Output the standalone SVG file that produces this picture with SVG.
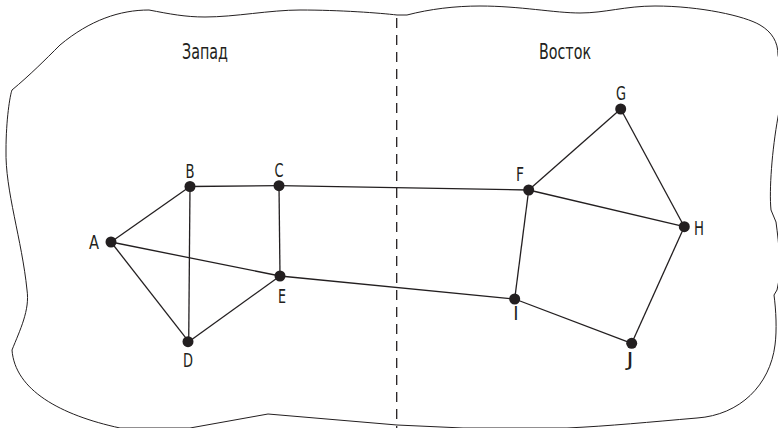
<svg xmlns="http://www.w3.org/2000/svg" width="778" height="428" viewBox="0 0 778 428">
<style>
.bd{fill:none;stroke:#231f20;stroke-width:1}
.dash{fill:none;stroke:#231f20;stroke-width:1.3;stroke-dasharray:10 7}
.e{stroke:#231f20;stroke-width:1.3;fill:none}
.n{fill:#231f20}
.t{font-family:"DejaVu Sans Condensed","DejaVu Sans",sans-serif;font-stretch:condensed;font-size:20px;fill:#231f20;text-anchor:middle}
.r{font-family:"DejaVu Sans Condensed","DejaVu Sans",sans-serif;font-stretch:condensed;font-size:22px;fill:#231f20;text-anchor:middle}
</style>
<rect width="778" height="428" fill="#fff"/>
<path class="bd" d="M149,10 C170,14 185,17 205,17 C235,17 270,10 300,10 C340,10 380,13 397,15 L407,15 C430,9 455,6 480,6 C520,6 555,13 580,13 C605,13 625,6 655,6 C700,6 745,16 760,25 C772,32 778,42 778,55 C782,70 782,100 778,117 C772,150 769,190 771,210 L776,222 C779,245 782,270 777,290 L774,295 C776,310 777,330 775,345 C770,385 740,415 697,418 C650,422 610,426 567,428 L463,428 L397,425 L268,414 L190,428 L120,428 C60,415 15,390 12,350 C20,330 30,310 27,290 C22,240 5,190 6,150 C6,120 10,95 12,90 C30,75 45,60 60,45 C90,20 120,10 149,10 Z"/>
<line class="dash" x1="396.7" y1="18" x2="396.7" y2="428"/>
<text class="r" x="205" y="59" textLength="46" lengthAdjust="spacingAndGlyphs">Запад</text>
<text class="r" x="565" y="58.5" textLength="52" lengthAdjust="spacingAndGlyphs">Восток</text>
<g id="connectors">
<line class="e" x1="111" y1="242" x2="190" y2="186.5"/>
<line class="e" x1="111" y1="242" x2="280" y2="276"/>
<line class="e" x1="111" y1="242" x2="188.7" y2="341.7"/>
<line class="e" x1="190" y1="186.5" x2="279" y2="185.7"/>
<line class="e" x1="190" y1="186.5" x2="188.7" y2="341.7"/>
<line class="e" x1="279" y1="185.7" x2="280" y2="276"/>
<line class="e" x1="279" y1="185.7" x2="528.7" y2="190"/>
<line class="e" x1="188.7" y1="341.7" x2="280" y2="276"/>
<line class="e" x1="280" y1="276" x2="514.7" y2="299"/>
<line class="e" x1="528.7" y1="190" x2="620.7" y2="109"/>
<line class="e" x1="528.7" y1="190" x2="684.3" y2="226.7"/>
<line class="e" x1="528.7" y1="190" x2="514.7" y2="299"/>
<line class="e" x1="620.7" y1="109" x2="684.3" y2="226.7"/>
<line class="e" x1="684.3" y1="226.7" x2="631.7" y2="343.3"/>
<line class="e" x1="514.7" y1="299" x2="631.7" y2="343.3"/>
</g>
<g id="A"><circle class="n" cx="111" cy="242" r="5.5"/><text class="t" x="94" y="249" textLength="10" lengthAdjust="spacingAndGlyphs">A</text></g>
<g id="B"><circle class="n" cx="190" cy="186.5" r="5.5"/><text class="t" x="190" y="177.5" textLength="9" lengthAdjust="spacingAndGlyphs">B</text></g>
<g id="C"><circle class="n" cx="279" cy="185.7" r="5.5"/><text class="t" x="279" y="176.5" textLength="9" lengthAdjust="spacingAndGlyphs">C</text></g>
<g id="D"><circle class="n" cx="188" cy="341.7" r="5.5"/><text class="t" x="188" y="367" textLength="10" lengthAdjust="spacingAndGlyphs">D</text></g>
<g id="E"><circle class="n" cx="280" cy="276" r="5.5"/><text class="t" x="282" y="303" textLength="8" lengthAdjust="spacingAndGlyphs">E</text></g>
<g id="F"><circle class="n" cx="528.7" cy="190" r="5.5"/><text class="t" x="520" y="180.5" textLength="8" lengthAdjust="spacingAndGlyphs">F</text></g>
<g id="G"><circle class="n" cx="620.7" cy="109" r="5.5"/><text class="t" x="621" y="100" textLength="10" lengthAdjust="spacingAndGlyphs">G</text></g>
<g id="H"><circle class="n" cx="684.3" cy="226.7" r="5.5"/><text class="t" x="699" y="235" textLength="10" lengthAdjust="spacingAndGlyphs">H</text></g>
<g id="I"><circle class="n" cx="514.7" cy="299" r="5.5"/><text class="t" x="516" y="320">I</text></g>
<g id="J"><circle class="n" cx="631.7" cy="343.3" r="5.5"/><text class="t" x="630" y="366" textLength="7" lengthAdjust="spacingAndGlyphs">J</text></g>
</svg>
